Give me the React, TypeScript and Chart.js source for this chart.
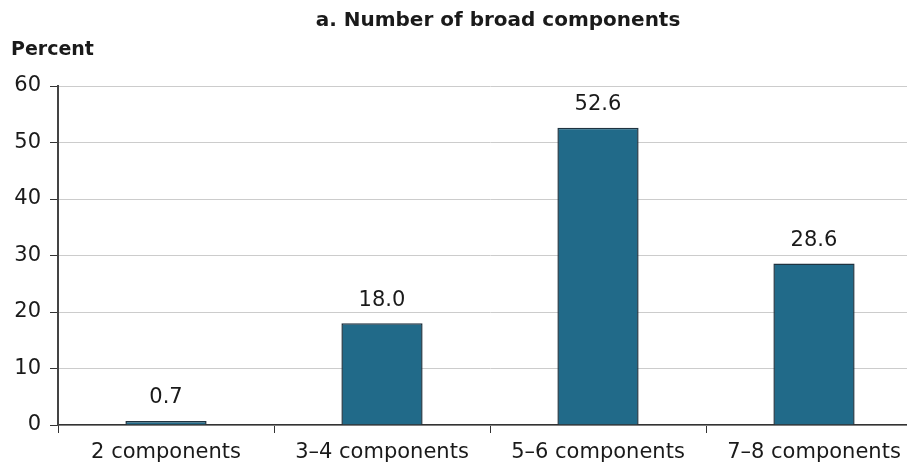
import React, { useEffect, useRef } from "react";
import { Chart, registerables } from "chart.js";

Chart.register(...registerables);

const categories = ["2 components", "3\u20134 components", "5\u20136 components", "7\u20138 components"];
const values = [0.7, 18.0, 52.6, 28.6];
const yTicks = [0, 10, 20, 30, 40, 50, 60];
const titleText = "a. Number of broad components";
const yTitle = "Percent";

const FONT = "'DejaVu Sans', sans-serif";

const overlay = {
  id: "overlay",
  afterDatasetsDraw(chart: any) {
    const ctx = chart.ctx;
    const meta = chart.getDatasetMeta(0);
    ctx.save();
    ctx.fillStyle = "#1a1a1a";
    ctx.font = `21px ${FONT}`;
    ctx.textAlign = "center";
    ctx.textBaseline = "middle";
    meta.data.forEach((bar: any, i: number) => {
      ctx.fillText(values[i].toFixed(1), bar.x, bar.y - 23);
    });
    ctx.font = `bold 20px ${FONT}`;
    ctx.textAlign = "center";
    ctx.fillText(titleText, 498, 21);
    ctx.font = `bold 19px ${FONT}`;
    ctx.textAlign = "left";
    ctx.fillText(yTitle, 11, 50);
    ctx.restore();
  },
};

export default function App() {
  const ref = useRef<HTMLCanvasElement>(null);
  useEffect(() => {
    document.body.style.margin = "0";
    document.body.style.overflow = "hidden";
    document.documentElement.style.overflow = "hidden";
    const chart = new Chart(ref.current!, {
      type: "bar",
      data: {
        labels: categories,
        datasets: [
          {
            data: values,
            backgroundColor: "#216a89",
            borderColor: "#1f3340",
            borderWidth: 1.5,
            categoryPercentage: 1,
            barPercentage: 0.376,
          },
        ],
      },
      plugins: [overlay],
      options: {
        responsive: false,
        animation: false,
        layout: { padding: { top: 86, left: 0, right: 0, bottom: 0 } },
        plugins: { legend: { display: false }, tooltip: { enabled: false } },
        scales: {
          x: {
            grid: { drawOnChartArea: false, tickLength: 8, color: "#333", tickColor: "#333", offset: true },
            border: { color: "#333", width: 1.5 },
            ticks: { color: "#1a1a1a", font: { family: FONT, size: 21 }, padding: 7, maxRotation: 0, autoSkip: false },
            afterFit: (s: any) => { s.height = 39; },
          },
          y: {
            min: 0,
            max: 60,
            afterBuildTicks: (s: any) => { s.ticks = yTicks.map((v) => ({ value: v })); },
            grid: { color: "#cccccc", tickLength: 8, tickColor: "#333", lineWidth: 1 },
            border: { color: "#444", width: 2 },
            ticks: { color: "#1a1a1a", font: { family: FONT, size: 21 }, padding: 9 },
            afterFit: (s: any) => { s.width = 58; },
          },
        },
      },
    });
    return () => chart.destroy();
  }, []);
  return (
    <div style={{ position: "relative", width: 907, height: 464, overflow: "hidden" }}>
      <canvas ref={ref} width={922} height={464} style={{ position: "absolute", left: 0, top: 0 }} />
    </div>
  );
}
